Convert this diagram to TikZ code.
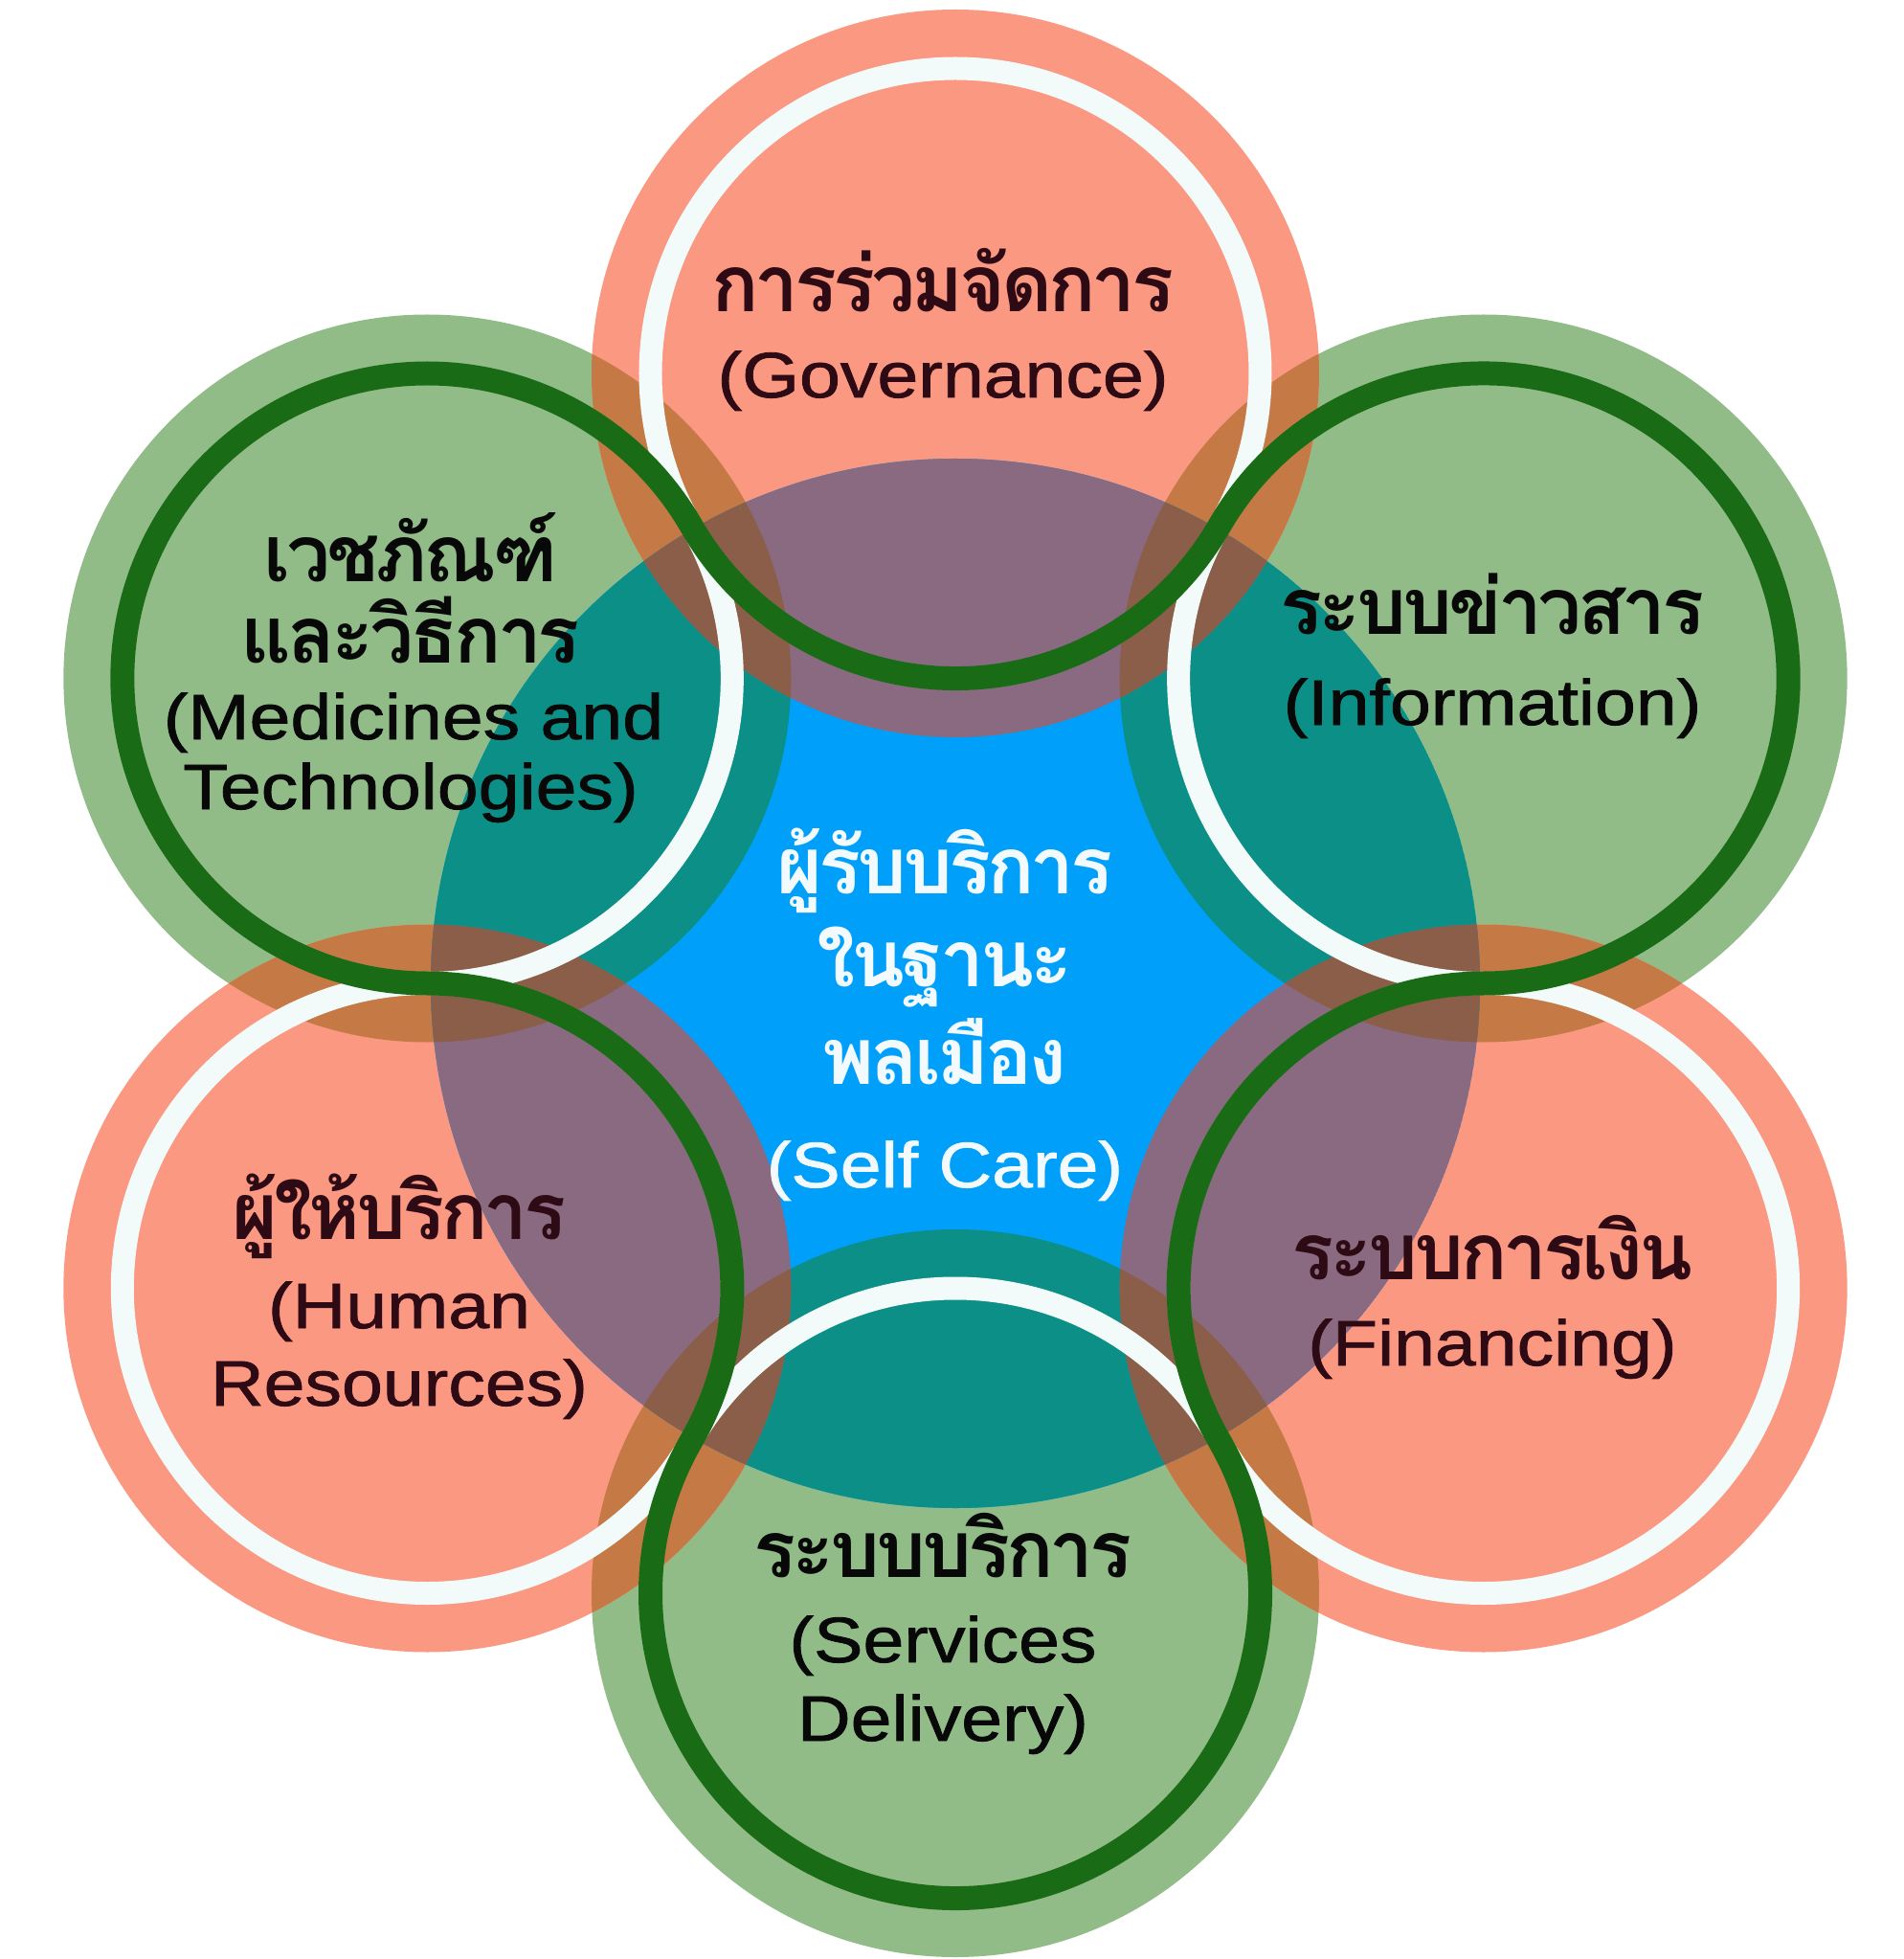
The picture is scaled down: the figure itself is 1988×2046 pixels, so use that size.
\documentclass[tikz,border=0pt]{standalone}
\usepackage{fontspec}
\setmainfont{Liberation Sans}[FakeStretch=1.15,FakeBold=1.2]
\newfontfamily\thaifont[Script=Thai,LetterSpace=-5]{Loma}
\definecolor{salmon}{HTML}{FA9882}
\definecolor{leaf}{HTML}{91BC88}
\definecolor{ringgreen}{HTML}{1A6B16}
\definecolor{ringwhite}{HTML}{F3FAFA}
\definecolor{tealc}{HTML}{0C8F86}
\definecolor{skyc}{HTML}{00A0FA}
\definecolor{mauve}{HTML}{8A6A80}
\definecolor{rust}{HTML}{C57A46}
\definecolor{umber}{HTML}{8A5E48}
\definecolor{maroon}{HTML}{2E0A14}
\definecolor{inkc}{HTML}{080808}
\definecolor{paper}{HTML}{F2FAFD}
\begin{document}
\begin{tikzpicture}[x=0.5pt,y=0.5pt,
  eng/.style={anchor=base, inner sep=0pt, text height=25pt, text depth=7pt,
    font=\fontsize{33.5}{40}\selectfont},
  thai/.style={anchor=base, inner sep=0pt, text height=24pt, text depth=2pt,
    font=\thaifont\bfseries\fontsize{41}{48}\selectfont},
  ringw/.style={draw=ringwhite, line width=12pt},
  ringg/.style={draw=ringgreen, line width=12.5pt, line join=round}]
\useasboundingbox (-998,-1019) rectangle (990,1027);
\fill[white] (-998,-1019) rectangle (990,1027);
\coordinate (O) at (0,0);
\coordinate (gov) at (90:637);
\coordinate (info) at (30:637);
\coordinate (fin) at (-30:637);
\coordinate (serv) at (-90:637);
\coordinate (hr) at (-150:637);
\coordinate (med) at (150:637);
\def\greens{(info) circle[radius=380] (serv) circle[radius=380] (med) circle[radius=380]}
\def\salmons{(gov) circle[radius=380] (fin) circle[radius=380] (hr) circle[radius=380]}
% outer disks
\fill[leaf] \greens;
\fill[salmon] \salmons;
\begin{scope}
  \clip \greens;
  \fill[rust] \salmons;
\end{scope}
% central disk
\begin{scope}
  \clip (O) circle[radius=548];
  \fill[skyc] (O) circle[radius=548];
  \fill[tealc] \greens;
  \fill[mauve] \salmons;
  \clip \greens;
  \fill[umber] \salmons;
\end{scope}
% rings
\path[ringw] (gov) circle[radius=318.5] (info) circle[radius=318.5] (fin) circle[radius=318.5]
  (serv) circle[radius=318.5] (hr) circle[radius=318.5] (med) circle[radius=318.5];
\path[ringg] (gov) ++(210:318.5)
  arc[start angle=210, end angle=330, radius=318.5]
  arc[start angle=150, end angle=-90, radius=318.5]
  arc[start angle=90, end angle=210, radius=318.5]
  arc[start angle=30, end angle=-210, radius=318.5]
  arc[start angle=-30, end angle=90, radius=318.5]
  arc[start angle=270, end angle=30, radius=318.5] -- cycle;
% labels
\node[thai, text=maroon] (gov1) at (-13,701) {การร่วมจัดการ};
\node[eng, text=maroon] (gov2) at (-13,612) {(Governance)};
\node[thai, text=inkc] (info1) at (561,364) {ระบบข่าวสาร};
\node[eng, text=inkc] (info2) at (561,270) {(Information)};
\node[thai, text=inkc] (med1) at (-569,419) {เวชภัณฑ์};
\node[thai, text=inkc] (med2) at (-569,335) {และวิธีการ};
\node[eng, text=inkc] (med3) at (-566,255) {(Medicines and};
\node[eng, text=inkc] (med4) at (-569,182) {Technologies)};
\node[thai, text=paper] (c1) at (-11,94) {ผู้รับบริการ};
\node[thai, text=paper] (c2) at (-11,-3) {ในฐานะ};
\node[thai, text=paper] (c3) at (-11,-105) {พลเมือง};
\node[eng, text=paper] (c4) at (-11,-213) {(Self Care)};
\node[thai, text=maroon] (hr1) at (-581,-267) {ผู้ให้บริการ};
\node[eng, text=maroon] (hr2) at (-581,-360) {(Human};
\node[eng, text=maroon] (hr3) at (-581,-441) {Resources)};
\node[thai, text=maroon] (fin1) at (561,-309) {ระบบการเงิน};
\node[eng, text=maroon] (fin2) at (561,-399) {(Financing)};
\node[thai, text=inkc] (serv1) at (-13,-620) {ระบบบริการ};
\node[eng, text=inkc] (serv2) at (-13,-709) {(Services};
\node[eng, text=inkc] (serv3) at (-13,-791) {Delivery)};
\end{tikzpicture}
\end{document}
